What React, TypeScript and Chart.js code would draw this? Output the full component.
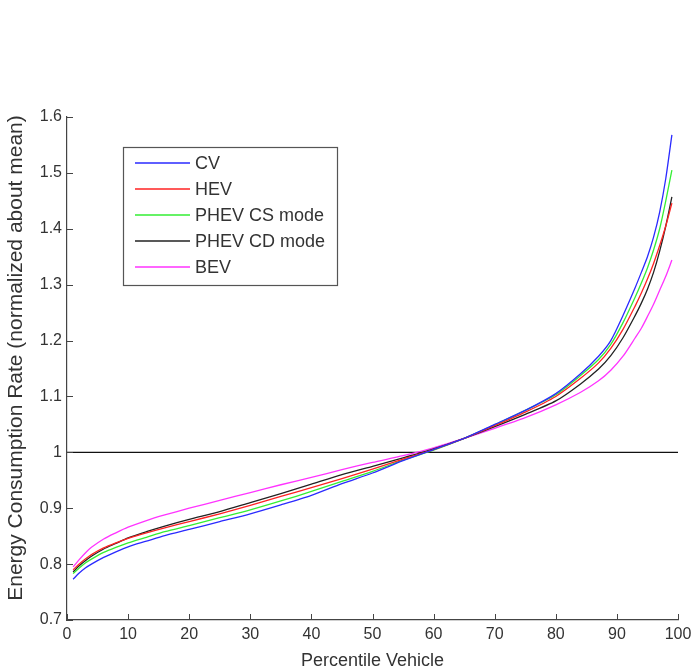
import React, { useEffect, useRef } from "react";
import { Chart, registerables } from "chart.js";

Chart.register(...registerables);

const PERCENTILE = [1, 2, 3, 4, 6, 8, 10, 13, 16, 20, 25, 30, 35, 40, 45, 50, 55, 60, 65, 70, 75, 80, 84, 87, 89, 91, 93, 94, 95, 96, 97, 98, 99];

const CV = [0.773, 0.784, 0.793, 0.8, 0.812, 0.822, 0.831, 0.841, 0.851, 0.862, 0.876, 0.89, 0.906, 0.923, 0.944, 0.963, 0.985, 1.005, 1.025, 1.05, 1.075, 1.105, 1.14, 1.172, 1.2, 1.245, 1.295, 1.322, 1.35, 1.385, 1.43, 1.49, 1.568];
const HEV = [0.79, 0.8, 0.809, 0.817, 0.829, 0.838, 0.846, 0.856, 0.865, 0.876, 0.89, 0.905, 0.921, 0.937, 0.953, 0.97, 0.988, 1.005, 1.025, 1.048, 1.072, 1.1, 1.132, 1.16, 1.186, 1.22, 1.262, 1.285, 1.31, 1.338, 1.37, 1.405, 1.446];
const PHEV_CS = [0.783, 0.793, 0.802, 0.809, 0.821, 0.83, 0.838, 0.848, 0.858, 0.869, 0.883, 0.897, 0.913, 0.93, 0.948, 0.966, 0.986, 1.004, 1.025, 1.049, 1.075, 1.103, 1.137, 1.166, 1.193, 1.232, 1.278, 1.303, 1.33, 1.362, 1.4, 1.45, 1.505];
const PHEV_CD = [0.786, 0.797, 0.806, 0.814, 0.827, 0.837, 0.847, 0.858, 0.868, 0.88, 0.894, 0.91, 0.926, 0.943, 0.96, 0.975, 0.99, 1.006, 1.025, 1.046, 1.068, 1.092, 1.122, 1.149, 1.173, 1.205, 1.245, 1.267, 1.292, 1.322, 1.36, 1.405, 1.457];
const BEV = [0.795, 0.808, 0.82, 0.83, 0.845, 0.856, 0.866, 0.878, 0.888, 0.9, 0.914, 0.928, 0.942, 0.955, 0.969, 0.982, 0.994, 1.008, 1.025, 1.043, 1.062, 1.085, 1.107, 1.128, 1.147, 1.172, 1.205, 1.222, 1.243, 1.265, 1.29, 1.315, 1.344];

const SERIES_LABELS = ["CV", "HEV", "PHEV CS mode", "PHEV CD mode", "BEV"];
const SERIES_VALUES = [CV, HEV, PHEV_CS, PHEV_CD, BEV];
const SERIES_COLORS = ["#2a2aff", "#ff2222", "#33ee33", "#222222", "#ff33ff"];

const REF_X = [0, 100];
const REF_Y = [1, 1];

const X_TITLE = "Percentile Vehicle";
const Y_TITLE = "Energy Consumption Rate (normalized about mean)";

const FONT = "'Liberation Sans', Arial, Helvetica, sans-serif";

const insideTicks = {
  id: "insideTicks",
  afterDraw(chart: any) {
    const ctx = chart.ctx;
    const xs = chart.scales.x;
    const ys = chart.scales.y;
    const area = chart.chartArea;
    ctx.save();
    ctx.strokeStyle = "#444";
    ctx.lineWidth = 1;
    ctx.beginPath();
    xs.ticks.forEach((t: any) => {
      const px = Math.round(xs.getPixelForValue(t.value)) + 0.5;
      ctx.moveTo(px, area.bottom);
      ctx.lineTo(px, area.bottom - 6);
    });
    ys.ticks.forEach((t: any) => {
      const py = Math.round(ys.getPixelForValue(t.value)) + 0.5;
      ctx.moveTo(area.left, py);
      ctx.lineTo(area.left + 6, py);
    });
    ctx.stroke();
    // y axis title
    ctx.translate(16, 358);
    ctx.rotate(-Math.PI / 2);
    ctx.font = `21px ${FONT}`;
    ctx.fillStyle = "#333";
    ctx.textAlign = "center";
    ctx.textBaseline = "middle";
    ctx.fillText(Y_TITLE, 0, 0);
    ctx.restore();
  },
};

const boxLegend = {
  id: "boxLegend",
  afterDraw(chart: any) {
    const ctx = chart.ctx;
    const left = 123;
    const top = 147;
    const w = 214;
    const h = 138;
    ctx.save();
    ctx.fillStyle = "#fff";
    ctx.fillRect(left, top, w, h);
    ctx.strokeStyle = "#555";
    ctx.lineWidth = 1.2;
    ctx.strokeRect(left + 0.5, top + 0.5, w, h);
    ctx.font = `18px ${FONT}`;
    ctx.textBaseline = "middle";
    ctx.textAlign = "left";
    SERIES_LABELS.forEach((label, i) => {
      const y = top + 16 + i * 26;
      ctx.strokeStyle = SERIES_COLORS[i];
      ctx.lineWidth = 1.3;
      ctx.beginPath();
      ctx.moveTo(135, y);
      ctx.lineTo(190, y);
      ctx.stroke();
      ctx.fillStyle = "#333";
      ctx.fillText(label, 195, y + 1);
    });
    ctx.restore();
  },
};

export default function App() {
  const ref = useRef<HTMLCanvasElement | null>(null);

  useEffect(() => {
    if (!ref.current) return;
    const datasets: any[] = SERIES_LABELS.map((label, i) => ({
      label,
      data: PERCENTILE.map((x, j) => ({ x, y: SERIES_VALUES[i][j] })),
      borderColor: SERIES_COLORS[i],
      backgroundColor: SERIES_COLORS[i],
      borderWidth: 1.3,
      pointRadius: 0,
      tension: 0.25,
      fill: false,
    }));
    datasets.push({
      label: "mean",
      data: REF_X.map((x, j) => ({ x, y: REF_Y[j] })),
      borderColor: "#111",
      borderWidth: 1.2,
      pointRadius: 0,
      fill: false,
    });

    const chart = new Chart(ref.current, {
      type: "line",
      data: { datasets },
      plugins: [insideTicks, boxLegend],
      options: {
        animation: false,
        responsive: false,
        layout: { padding: { top: 117, right: 14, left: 0, bottom: 0 } },
        plugins: {
          legend: { display: false },
          tooltip: { enabled: false },
        },
        scales: {
          x: {
            type: "linear",
            min: 0,
            max: 100,
            ticks: {
              stepSize: 10,
              color: "#333",
              font: { family: FONT, size: 16 },
              padding: 5,
              maxRotation: 0,
            },
            grid: { display: false, drawTicks: false },
            border: { display: true, color: "#444", width: 1.2 },
            title: {
              display: true,
              text: X_TITLE,
              color: "#333",
              font: { family: FONT, size: 18 },
              padding: { top: 1, bottom: 0 },
            },
            afterFit(scale: any) {
              scale.height = 52;
              scale.paddingLeft = 0;
              scale.paddingRight = 0;
            },
          } as any,
          y: {
            type: "linear",
            min: 0.7,
            max: 1.6,
            ticks: {
              stepSize: 0.1,
              color: "#333",
              font: { family: FONT, size: 16 },
              padding: 5,
              callback: (v: any) => String(Math.round(Number(v) * 10) / 10),
            },
            grid: { display: false, drawTicks: false },
            border: { display: true, color: "#444", width: 1.2 },
            title: { display: false },
            afterFit(scale: any) {
              scale.width = 67;
              scale.paddingTop = 0;
              scale.paddingBottom = 0;
            },
          } as any,
        },
      },
    });
    return () => chart.destroy();
  }, []);

  return (
    <div style={{ position: "absolute", left: 0, top: 0, width: 692, height: 672, background: "#fff" }}>
      <canvas ref={ref} width={692} height={672} style={{ display: "block" }} />
    </div>
  );
}
